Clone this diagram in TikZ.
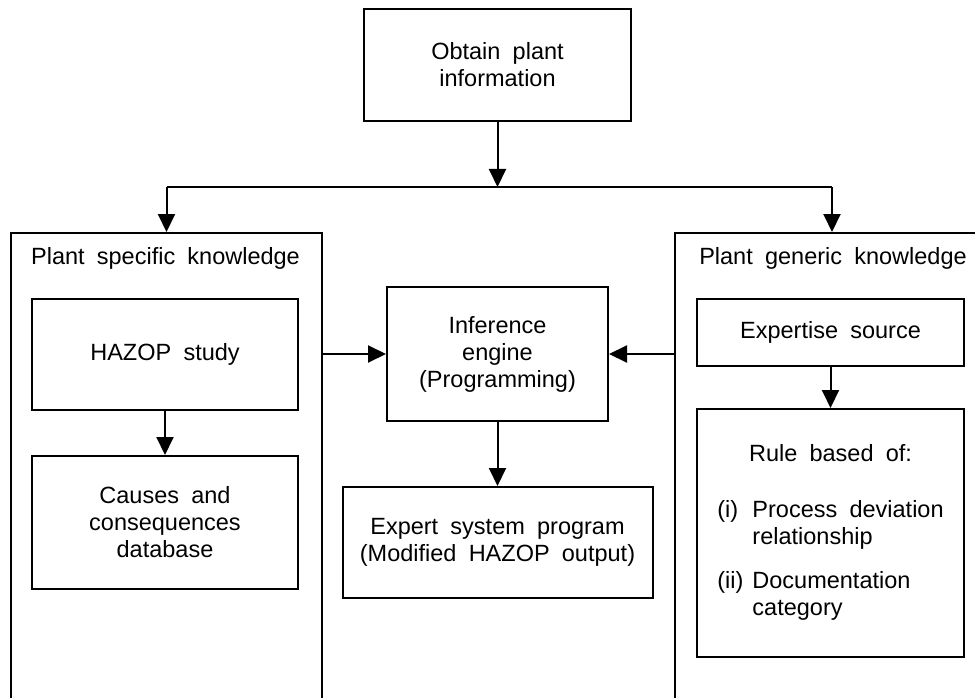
\documentclass[tikz,border=0pt]{standalone}
\usepackage{fontspec}
\setmainfont{Liberation Sans}
\usetikzlibrary{arrows.meta,positioning}

\begin{document}
\begin{tikzpicture}[x=1pt,y=-1pt,
every node/.style={draw,rectangle,line width=2pt,align=center,inner sep=0pt,
  font={\fontsize{23.5}{27}\selectfont\spaceskip=0.52em\relax}},
arr/.style={-{Triangle[length=18pt,width=17pt]},line width=2pt},
txt/.style={draw=none}]
\useasboundingbox (0,0) rectangle (975,698);
\clip (0,0) rectangle (975,698);
\node[minimum width=267pt,minimum height=112pt] (obtain) at (497.5,65) {Obtain plant\\information};
\node[anchor=north west,minimum width=311pt,minimum height=490pt] (spec) at (10,232) {};
\node[anchor=north west,minimum width=314pt,minimum height=490pt] (gen) at (674,232) {};
\node[txt] (spectitle) at (165.5,258) {Plant specific knowledge};
\node[txt] (gentitle) at (833,258) {Plant generic knowledge};
\node[minimum width=266pt,minimum height=111pt] (hazop) at (165,354.5) {HAZOP study};
\node[minimum width=266pt,minimum height=133pt] (causes) at (165,522.5) {Causes and\\consequences\\database};
\node[minimum width=221pt,minimum height=134pt] (infer) at (497.5,354) {Inference\\engine\\(Programming)};
\node[minimum width=310pt,minimum height=111pt] (expert) at (497.5,542.5) {Expert system program\\(Modified HAZOP output)};
\node[minimum width=267pt,minimum height=67pt] (source) at (830.5,332.5) {Expertise source};
\node[minimum width=267pt,minimum height=248pt] (rule) at (830.5,533) {%
\begin{tabular}{@{}l@{\hspace{9pt}}l@{}}
\multicolumn{2}{c}{Rule based of:}\\[29pt]
(i) & Process deviation\\
 & relationship\\[17pt]
(ii) & Documentation\\
 & category
\end{tabular}};
\coordinate (split) at (497.5,187);
\draw[arr] (obtain)--(split);
\draw[line width=2pt] (spec.north |- split)--(gen.north |- split);
\draw[arr] (spec.north |- split)--(spec.north);
\draw[arr] (gen.north |- split)--(gen.north);
\draw[arr] (spec.east |- infer)--(infer.west);
\draw[arr] (gen.west |- infer)--(infer.east);
\draw[arr] (infer)--(expert);
\draw[arr] (hazop)--(causes);
\draw[arr] (source)--(rule);
\end{tikzpicture}
\end{document}
